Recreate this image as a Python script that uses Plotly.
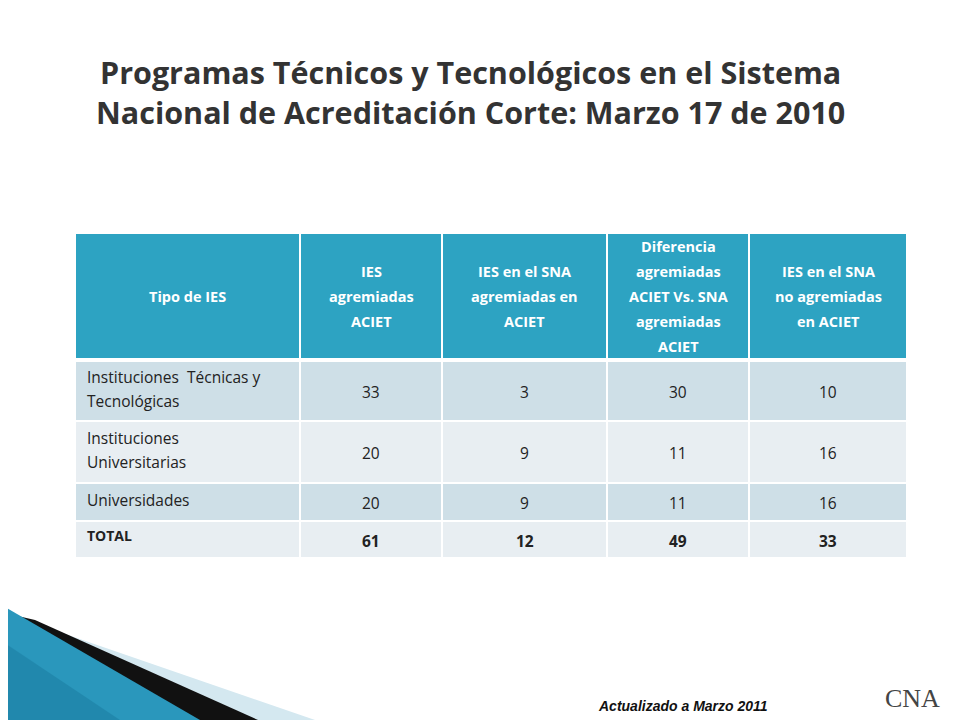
import plotly.graph_objects as go

headers = [["Tipo de IES"], ["IES", "agremiadas", "ACIET"], ["IES en el SNA", "agremiadas en", "ACIET"],
           ["Diferencia", "agremiadas", "ACIET Vs. SNA", "agremiadas", "ACIET"], ["IES en el SNA", "no agremiadas", "en ACIET"]]
categories = [["Instituciones  Técnicas y", "Tecnológicas"], ["Instituciones", "Universitarias"], ["Universidades"], ["<b>TOTAL</b>"]]
ies_aciet = [33, 20, 20, 61]
sna_aciet = [3, 9, 9, 12]
diferencia = [30, 11, 11, 49]
no_agremiadas = [10, 16, 16, 33]

col_x = [75, 300, 442, 607, 749, 907]
row_y = [233, 360, 421, 483, 521, 558]
row_colors = ["#CEDFE7", "#E8EEF2", "#CEDFE7", "#E8EEF2"]

fig = go.Figure()
shapes, ann = [], []
# decoration
shapes.append(dict(type="path", path="M0,620 L45,627 L315,720 L0,720 Z", fillcolor="#D4E8F0", line_width=0, layer="below"))
shapes.append(dict(type="path", path="M0,612 L35,620 L258,720 L0,720 Z", fillcolor="#111111", line_width=0, layer="below"))
shapes.append(dict(type="path", path="M0,604 L200,720 L0,720 Z", fillcolor="#2A97BC", line_width=0, layer="below"))
shapes.append(dict(type="path", path="M0,640 L120,720 L0,720 Z", fillcolor="#1C7FA3", line_width=0, layer="below", opacity=0.6))

shapes.append(dict(type="rect", x0=col_x[0], x1=col_x[-1], y0=row_y[0], y1=row_y[1], fillcolor="#2DA3C2", line=dict(color="white", width=2)))
for r in range(4):
    shapes.append(dict(type="rect", x0=col_x[0], x1=col_x[-1], y0=row_y[r+1], y1=row_y[r+2], fillcolor=row_colors[r], line=dict(color="white", width=2)))
for c in range(1, 5):
    shapes.append(dict(type="line", x0=col_x[c], x1=col_x[c], y0=row_y[0], y1=row_y[-1], line=dict(color="white", width=2)))
shapes.append(dict(type="line", x0=col_x[0], x1=col_x[-1], y0=row_y[1], y1=row_y[1], line=dict(color="white", width=4)))

F = "Open Sans"
HL = 25
for c, h in enumerate(headers):
    yc = (row_y[0]+row_y[1])/2
    n = len(h)
    for i, line in enumerate(h):
        ann.append(dict(x=(col_x[c]+col_x[c+1])/2, y=yc + (i-(n-1)/2)*HL, text="<b>"+line+"</b>", showarrow=False,
                        font=dict(family=F, size=14.5, color="white")))
cols = [ies_aciet, sna_aciet, diferencia, no_agremiadas]
for r in range(4):
    yc = (row_y[r+1]+row_y[r+2])/2
    cat = categories[r]
    n = len(cat)
    for i, line in enumerate(cat):
        ann.append(dict(x=col_x[0]+10, y=yc - 2 + (i-(n-1)/2)*24 - (2 if r == 3 else 0), text=line, showarrow=False, xanchor="left",
                        font=dict(family=F, size=15.5 if r < 3 else 14, color="#222")))
    for c in range(4):
        v = str(cols[c][r])
        if r == 3:
            v = "<b>" + v + "</b>"
        ann.append(dict(x=(col_x[c+1]+col_x[c+2])/2, y=yc + 1, text=v, showarrow=False,
                        font=dict(family=F, size=15.5, color="#222")))

ann.append(dict(x=470, y=92, text="<b>Programas Técnicos y Tecnológicos en el Sistema<br>Nacional de Acreditación Corte: Marzo 17 de 2010</b>",
                showarrow=False, font=dict(family=F, size=30.5, color="#333"), align="center"))
ann.append(dict(x=683, y=706, text="<b><i>Actualizado a Marzo 2011</i></b>", showarrow=False,
                font=dict(family="Liberation Sans", size=14, color="#111")))
ann.append(dict(x=912, y=698, text="CNA", showarrow=False, font=dict(family="Liberation Serif", size=26, color="#444")))

fig.update_layout(width=960, height=720, margin=dict(l=0, r=0, t=0, b=0), paper_bgcolor="white", plot_bgcolor="white",
                  shapes=shapes, annotations=ann, showlegend=False,
                  xaxis=dict(range=[8, 968], visible=False, fixedrange=True),
                  yaxis=dict(range=[728, 8], visible=False, fixedrange=True))
fig.write_html("out.html")
